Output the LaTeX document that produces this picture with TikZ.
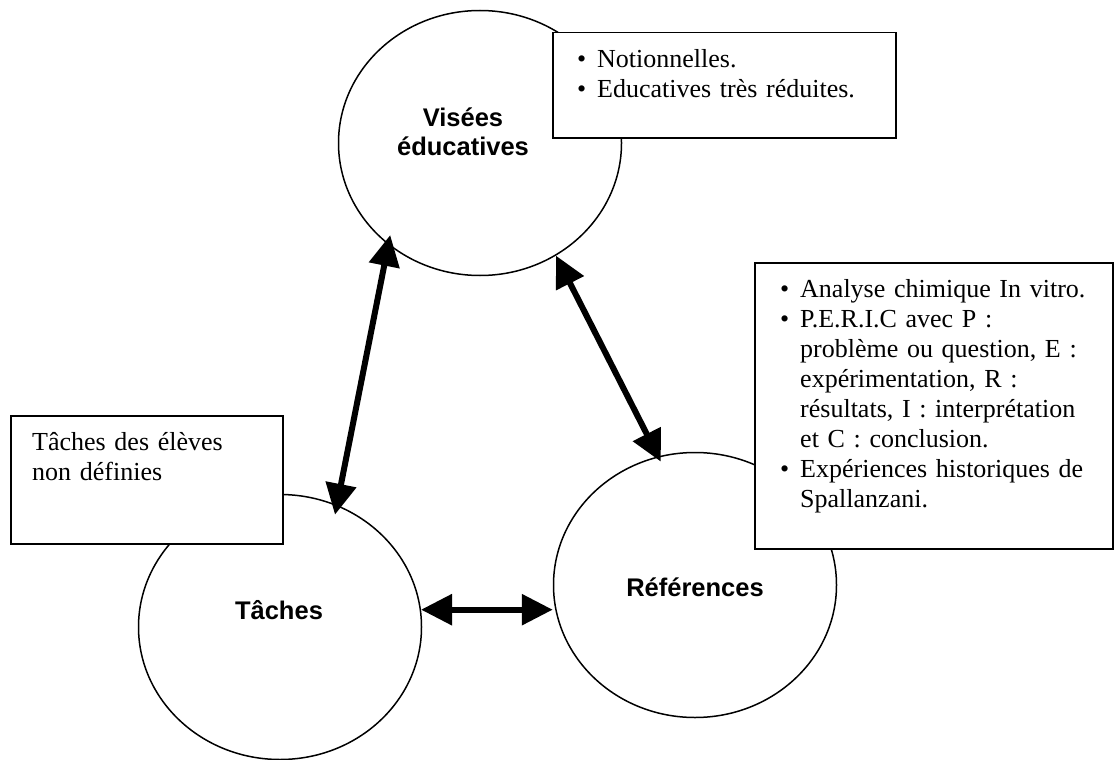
\documentclass[tikz,border=0pt]{standalone}
\usepackage{fontspec}
\setmainfont{Liberation Serif}
\setsansfont{Liberation Sans}
\usetikzlibrary{shapes.geometric,arrows.meta}

\newcommand{\bul}{\makebox[20pt][l]{\textbullet}}
\newcommand{\ind}{\hspace*{20pt}}

\begin{document}
\begin{tikzpicture}[x=1pt,y=1pt,
    pole/.style={draw,
        ellipse,
        line width=1.5pt,
        minimum width=283pt,
        minimum height=265pt,
        inner sep=0pt
    },
    polename/.style={font=\sffamily\bfseries\fontsize{25.5}{29.3}\selectfont,
        align=center,
        inner sep=0pt
    },
    notebox/.style={draw,
        fill=white,
        line width=1.5pt,
        anchor=north west,
        inner sep=0pt
    },
    notetext/.style={font=\fontsize{26}{30}\selectfont,
        text width=#1,
        align=left,
        anchor=base west,
        inner sep=0pt
    },
    link/.style={line width=6pt,
        {Triangle[length=31pt,width=30pt]}-{Triangle[length=31pt,width=30pt]}
    }]

    \useasboundingbox (0,0) rectangle (1114,-760);

    \node[pole] (vis) at (480,-143){};
    \node[pole] (tac) at (280,-627){};
    \node[pole] (ref) at (695,-585){};

    \node[notebox, minimum width=343pt, minimum height=105pt] (visbox) at (552,-32){};
    \node[notebox, minimum width=358pt, minimum height=286pt] (refbox) at (754,-262){};
    \node[notebox, minimum width=272pt, minimum height=128pt] (tacbox) at (10,-415){};

    \node[notetext=310pt] (vistext) at (577,-68){%
        \bul Notionnelles.\\
        \bul Educatives très réduites.};
    \node[notetext=325pt] (reftext) at (780,-297){%
        \bul Analyse chimique In vitro.\\
        \bul P.E.R.I.C avec P :\\
        \ind problème ou question, E :\\
        \ind expérimentation, R :\\
        \ind résultats, I : interprétation\\
        \ind et C : conclusion.\\
        \bul Expériences historiques de\\
        \ind Spallanzani.};
    \node[notetext=245pt] (tactext) at (32,-450){%
        Tâches des élèves\\
        non définies};

    \node[polename] (visname) at (463,-132){Visées\\éducatives};
    \node[polename] (tacname) at (279,-610){Tâches};
    \node[polename] (refname) at (695,-587){Références};

    \draw[link, shorten <=-10pt, shorten >=-10pt] (vis.228.7) -- (tac.65);
    \draw[link, shorten >=-6pt] (vis.304) -- (ref.106);
    \draw[link] (tac.7.7) -- (tac.7.7 -| ref.west);
    \end{tikzpicture}
\end{document}
